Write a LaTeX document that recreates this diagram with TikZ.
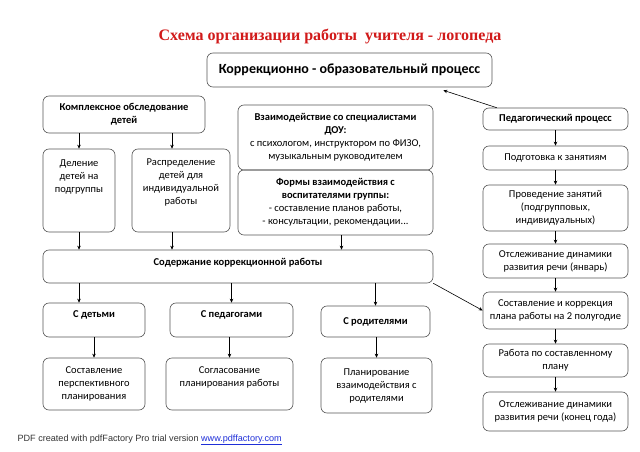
\documentclass[tikz,border=0pt]{standalone}
\usepackage{fontspec}
\setmainfont{Carlito}
\newfontfamily\titlefont{Liberation Serif}
\newfontfamily\notefont{Liberation Sans}
\usepackage{xcolor}
\usetikzlibrary{arrows.meta, positioning}
\definecolor{titlered}{HTML}{D11A1A}
\definecolor{edgegray}{HTML}{555555}
\definecolor{linkblue}{HTML}{1F2FD8}
\tikzset{
  block/.style={
    rectangle, rounded corners=6pt,
    draw=edgegray, line width=0.6pt,
    align=center, inner sep=2pt,
    font=\fontsize{10.5}{13}\selectfont,
  },
  head/.style={block, font=\fontsize{10.5}{13}\selectfont\bfseries},
  lbl/.style={align=center, inner sep=0pt, font=\fontsize{10.5}{13}\selectfont},
  lblbold/.style={lbl, font=\fontsize{10.5}{13}\selectfont\bfseries},
  arrow/.style={-{Stealth[length=4pt, width=3.5pt]}, line width=0.6pt, color=black},
}

\begin{document}
\begin{tikzpicture}[x=1pt, y=-1pt]

  \useasboundingbox (0,0) rectangle (640,452);

  \node[font=\titlefont\fontsize{16}{19}\selectfont\bfseries, text=titlered] (title) at (330,37) {Схема организации работы \ учителя - логопеда};
  \node[block, font=\fontsize{14}{17}\selectfont\bfseries, minimum width=285, minimum height=34] (corr) at (349.5,70) {Коррекционно - образовательный процесс};

  % left part
  \node[head, minimum width=162, minimum height=37] (exam) at (124,114.5) {Комплексное обследование\\детей};
  \node[block, minimum width=72, minimum height=83, label={[lbl, yshift=14pt]center:{Деление\\детей на\\подгруппы}}] (split) at (79,190.5) {};
  \node[block, minimum width=98, minimum height=83, label={[lbl, yshift=8pt]center:{Распределение\\детей для\\индивидуальной\\работы}}] (indiv) at (181,190.5) {};
  \node[block, minimum width=195, minimum height=65] (spec) at (335.5,137.5) {\textbf{Взаимодействие со специалистами}\\\textbf{ДОУ:}\\с психологом, инструктором по ФИЗО,\\музыкальным руководителем};
  \node[block, minimum width=195, minimum height=65] (forms) at (335.5,202.5) {\textbf{Формы взаимодействия с}\\\textbf{воспитателями группы:}\\- составление планов работы,\\- консультации, рекомендации...};

  \node[block, minimum width=390, minimum height=33, label={[lblbold, yshift=4pt]center:{Содержание коррекционной работы}}] (content) at (238,266.5) {};

  \node[block, minimum width=102, minimum height=34, label={[lblbold, yshift=5pt]center:{С детьми}}] (kids) at (94,320) {};
  \node[block, minimum width=123, minimum height=34, label={[lblbold, yshift=5pt]center:{С педагогами}}] (teach) at (231.5,320) {};
  \node[head, minimum width=109, minimum height=31] (par) at (375.5,321.5) {С родителями};

  \node[block, minimum width=102, minimum height=52] (persp) at (94,384) {Составление\\перспективного\\планирования};
  \node[block, minimum width=127, minimum height=52, label={[lbl, yshift=7pt]center:{Согласование\\планирования работы}}] (agree) at (229.5,384) {};
  \node[block, minimum width=111, minimum height=55] (plan) at (376.5,385.5) {Планирование\\взаимодействия с\\родителями};

  % right column
  \node[head, minimum width=145, minimum height=22] (ped) at (555.5,119) {Педагогический процесс};
  \node[block, minimum width=145, minimum height=24] (prep) at (555.5,158) {Подготовка к занятиям};
  \node[block, minimum width=145, minimum height=46] (lessons) at (555.5,208) {Проведение занятий\\(подгрупповых,\\индивидуальных)};
  \node[block, minimum width=145, minimum height=34] (jan) at (555.5,261) {Отслеживание динамики\\развития речи (январь)};
  \node[block, minimum width=145, minimum height=37] (plan2) at (555.5,310.5) {Составление и коррекция\\плана работы на 2 полугодие};
  \node[block, minimum width=145, minimum height=33] (work) at (555.5,360.5) {Работа по составленному\\плану};
  \node[block, minimum width=145, minimum height=39] (final) at (555.5,411.5) {Отслеживание динамики\\развития речи (конец года)};

  \node[anchor=west, font=\notefont\fontsize{9.1}{11}\selectfont, text=black!80] (note) at (14,440) {PDF created with pdfFactory Pro trial version \textcolor{linkblue}{\underline{www.pdffactory.com}}};

  % connectors
  \draw[arrow] ([xshift=14pt]ped.north west) -- ([xshift=-49pt, yshift=-3pt]corr.south east);
  \draw[arrow] (exam.south -| split) -- (split);
  \draw[arrow] ([xshift=-9pt]indiv.north |- exam.south) -- ([xshift=-9pt]indiv.north);
  \draw[arrow] (split) -- (split |- content.north);
  \draw[arrow] ([xshift=-9pt]indiv.south) -- ([xshift=-9pt]indiv.south |- content.north);
  \draw[arrow] ([xshift=6pt]forms.south) -- ([xshift=6pt]forms.south |- content.north);
  \draw[arrow] (content.south -| split) -- (kids.north -| split);
  \draw[arrow] (content.south -| teach) -- (teach);
  \draw[arrow] (content.south -| par) -- (par);
  \draw[arrow] (kids) -- (persp);
  \draw[arrow] (teach.south -| agree) -- (agree);
  \draw[arrow] (par.south -| plan) -- (plan);
  \draw[arrow] (content.south east) -- (plan2.west);
  \foreach \a/\b in {ped/prep, prep/lessons, lessons/jan, jan/plan2, plan2/work, work/final}
    \draw[arrow] (\a) -- (\b);

\end{tikzpicture}
\end{document}
